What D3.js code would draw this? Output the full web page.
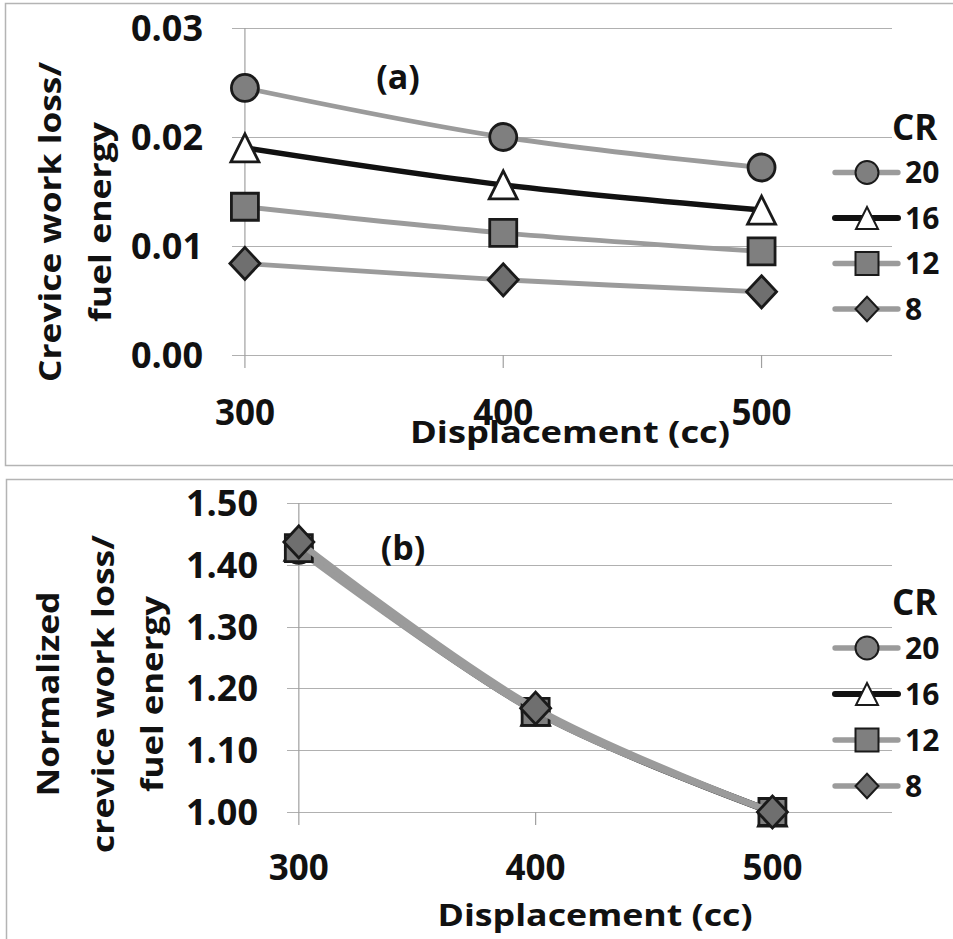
<!DOCTYPE html>
<html>
<head>
<meta charset="utf-8">
<script src="https://cdn.jsdelivr.net/npm/d3@7"></script>
<style>
  body { margin: 0; background: #fff; }
  text { font-family: "Open Sans", Lato, sans-serif; font-weight: bold; fill: #111; }
</style>
</head>
<body>
<div id="chart"></div>
<script>
// x values (engine displacement, cc)
var displacement = [300, 400, 500];
var xTicks = [300, 400, 500];
var crLabels = ["20", "16", "12", "8"];

// (a) crevice work loss / fuel energy
var lossCR20 = [0.0245, 0.0200, 0.0172];
var lossCR16 = [0.0190, 0.0156, 0.0133];
var lossCR12 = [0.0136, 0.0112, 0.0095];
var lossCR8 = [0.0084, 0.0069, 0.0058];
var lossTicks = [0, 0.01, 0.02, 0.03];

// (b) normalized to the 500 cc value
var normCR20 = [1.424, 1.163, 1.0];
var normCR16 = [1.430, 1.163, 1.0];
var normCR12 = [1.427, 1.162, 1.0];
var normCR8 = [1.437, 1.168, 1.0];
var normTicks = [1.0, 1.1, 1.2, 1.3, 1.4, 1.5];

var width = 953;
var height = 939;

var svg = d3.select("#chart")
        .append("svg")
        .attr("width", width)
        .attr("height", height);

// custom marker shapes, size = half width in px
var circleSym = { draw: function(c, s) { c.moveTo(s, 0); c.arc(0, 0, s, 0, 2 * Math.PI); } };
var triSym = { draw: function(c, s) { c.moveTo(0, -s); c.lineTo(s, s); c.lineTo(-s, s); c.closePath(); } };
var squareSym = { draw: function(c, s) { c.rect(-s, -s, 2 * s, 2 * s); } };
var diamondSym = { draw: function(c, s) { c.moveTo(0, -s * 1.07); c.lineTo(s, 0); c.lineTo(0, s * 1.07); c.lineTo(-s, 0); c.closePath(); } };

var seriesStyle = [
    { sym: circleSym, size: 13.5, legSize: 11.5, fill: "#7f7f7f", line: "#9b9b9b", lw: 4.8 },
    { sym: triSym, size: 14, legSize: 11, fill: "#ffffff", line: "#111111", lw: 5.5 },
    { sym: squareSym, size: 13.5, legSize: 11.5, fill: "#7f7f7f", line: "#9b9b9b", lw: 4.8 },
    { sym: diamondSym, size: 15, legSize: 11.5, fill: "#6f6f6f", line: "#9b9b9b", lw: 4.8 }
];

function drawPanel(p) {
    var g = svg.append("g");

    // outer frame
    g.append("rect")
        .attr("x", p.frame[0]).attr("y", p.frame[1])
        .attr("width", p.frame[2]).attr("height", p.frame[3])
        .attr("fill", "none").attr("stroke", "#b4b4b4").attr("stroke-width", 1.5);

    var x = d3.scaleLinear().domain([295, 550.5]).range([p.left, p.right]);
    var y = d3.scaleLinear().domain(p.yDomain).range([p.bottom, p.top]);

    // horizontal gridlines
    g.selectAll(".grid").data(p.yTicks).enter().append("line")
        .attr("x1", p.left).attr("x2", p.right)
        .attr("y1", function(d) { return Math.round(y(d)) + 0.5; })
        .attr("y2", function(d) { return Math.round(y(d)) + 0.5; })
        .attr("stroke", "#b0b0b0").attr("stroke-width", 1.2);

    // vertical axis crossing at 300, plus ticks below
    g.append("line")
        .attr("x1", x(300)).attr("x2", x(300))
        .attr("y1", y(p.yDomain[1])).attr("y2", y(p.yDomain[0]) + 13)
        .attr("stroke", "#a0a0a0").attr("stroke-width", 1.2);
    g.selectAll(".xt").data(xTicks.slice(1)).enter().append("line")
        .attr("x1", function(d) { return x(d); }).attr("x2", function(d) { return x(d); })
        .attr("y1", y(p.yDomain[0])).attr("y2", y(p.yDomain[0]) + 13)
        .attr("stroke", "#a0a0a0").attr("stroke-width", 1.2);

    // tick labels
    g.selectAll(".yl").data(p.yTicks).enter().append("text")
        .attr("x", p.yLabelX)
        .attr("y", function(d) { return y(d); })
        .attr("dy", "0.36em")
        .attr("text-anchor", "end")
        .style("font-size", "36px")
        .text(function(d) { return d3.format(p.fmt)(d); });
    g.selectAll(".xl").data(xTicks).enter().append("text")
        .attr("x", function(d) { return x(d); })
        .attr("y", p.xLabelY)
        .attr("text-anchor", "middle")
        .style("font-size", "35px")
        .text(function(d) { return d; });

    // axis titles
    g.append("text")
        .attr("x", p.xTitle[0] - p.xTitle[2] / 2).attr("y", p.xTitle[1])
        .attr("textLength", p.xTitle[2])
        .attr("lengthAdjust", "spacingAndGlyphs")
        .style("font-size", "31px")
        .text("Displacement (cc)");
    p.yTitle.forEach(function(t, i) {
        g.append("text")
            .attr("transform", "translate(" + p.yTitleX[i] + "," + p.yTitleY + ") rotate(-90)")
            .attr("x", -p.yTitleLen[i] / 2)
            .attr("dy", "0.36em")
            .attr("textLength", p.yTitleLen[i])
            .attr("lengthAdjust", "spacingAndGlyphs")
            .style("font-size", "31px")
            .text(t);
    });

    // panel tag
    g.append("text")
        .attr("x", p.tag[0]).attr("y", p.tag[1])
        .attr("dy", "0.36em")
        .attr("text-anchor", "middle")
        .style("font-size", "34px")
        .text(p.tagText);

    // series
    var line = d3.line()
        .x(function(d, i) { return x(displacement[i]); })
        .y(function(d) { return y(d); })
        .curve(d3.curveCatmullRom);

    p.series.forEach(function(vals, k) {
        var st = seriesStyle[k];
        g.append("path")
            .attr("d", line(vals))
            .attr("fill", "none")
            .attr("stroke", st.line)
            .attr("stroke-width", st.lw + p.extraLw);
        g.selectAll(".m" + k).data(vals).enter().append("path")
            .attr("transform", function(d, i) { return "translate(" + x(displacement[i]) + "," + y(d) + ")"; })
            .attr("d", d3.symbol().type(st.sym).size(st.size))
            .attr("fill", st.fill)
            .attr("stroke", "#1a1a1a")
            .attr("stroke-width", 2.8);
    });

    // legend
    g.append("text")
        .attr("x", p.legX + 57).attr("y", p.legY)
        .attr("dy", "0.36em")
        .style("font-size", "35px")
        .text("CR");
    crLabels.forEach(function(lab, k) {
        var st = seriesStyle[k];
        var ly = p.legY + p.legGap * (k + 1);
        g.append("line")
            .attr("x1", p.legX).attr("x2", p.legX + 63)
            .attr("y1", ly).attr("y2", ly)
            .attr("stroke", st.line).attr("stroke-width", st.lw + 0.5)
            .attr("stroke-linecap", "round");
        g.append("path")
            .attr("transform", "translate(" + (p.legX + 32) + "," + ly + ")")
            .attr("d", d3.symbol().type(st.sym).size(st.legSize))
            .attr("fill", st.fill)
            .attr("stroke", "#1a1a1a")
            .attr("stroke-width", 2);
        g.append("text")
            .attr("x", p.legX + 70).attr("y", ly)
            .attr("dy", "0.36em")
            .style("font-size", "30px")
            .text(lab);
    });
}

drawPanel({
    frame: [5.5, 3.5, 980, 462],
    left: 232, right: 892, top: 28, bottom: 355,
    yDomain: [0, 0.03], yTicks: lossTicks, fmt: ".2f",
    yLabelX: 203, xLabelY: 425,
    xTitle: [570, 443, 320],
    yTitle: ["Crevice work loss/", "fuel energy"], yTitleX: [50, 100], yTitleLen: [320, 200], yTitleY: 222,
    tag: [398, 77], tagText: "(a)",
    series: [lossCR20, lossCR16, lossCR12, lossCR8], extraLw: 0,
    legX: 835, legY: 127, legGap: 45.5
});

drawPanel({
    frame: [6.5, 479.5, 980, 470],
    left: 287, right: 892, top: 503, bottom: 812,
    yDomain: [1.0, 1.5], yTicks: normTicks, fmt: ".2f",
    yLabelX: 258, xLabelY: 880,
    xTitle: [595, 926, 315],
    yTitle: ["Normalized", "crevice work loss/", "fuel energy"], yTitleX: [48, 103, 152], yTitleLen: [205, 318, 196], yTitleY: 694,
    tag: [403, 548], tagText: "(b)",
    series: [normCR20, normCR16, normCR12, normCR8], extraLw: 1.5,
    legX: 835, legY: 602, legGap: 46
});
</script>
</body>
</html>
